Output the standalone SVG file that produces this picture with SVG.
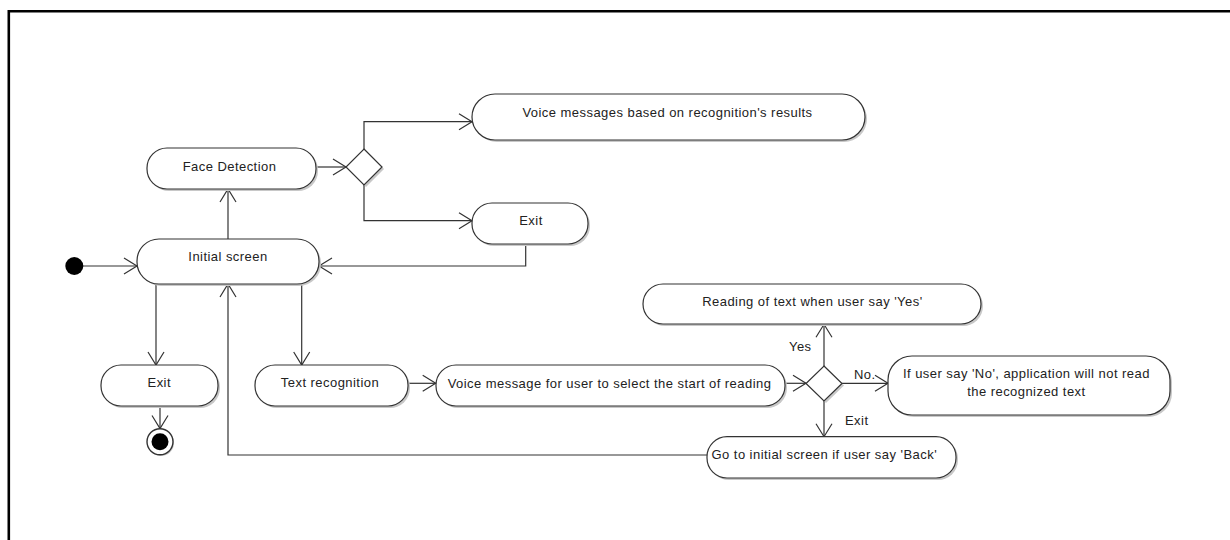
<svg xmlns="http://www.w3.org/2000/svg" width="1230" height="540" viewBox="0 0 1230 540">
<style>
.n{fill:#fff;stroke:#333;stroke-width:1.2}
.sh{fill:#c8c8c8;stroke:none}
.t{font-family:"Liberation Sans",Arial,sans-serif;font-size:13px;letter-spacing:0.45px;fill:#222;text-anchor:middle}
.l{font-family:"Liberation Sans",Arial,sans-serif;font-size:13px;letter-spacing:0.45px;fill:#222}
.c{fill:none;stroke:#333;stroke-width:1.2}
</style>
<defs>
<marker id="a" markerUnits="userSpaceOnUse" markerWidth="30" markerHeight="30" viewBox="-15 -15 30 30" refX="0" refY="0" orient="auto">
<path d="M-13,-8 L0,0 L-13,8" fill="none" stroke="#333" stroke-width="1.2"/>
</marker>
</defs>
<rect width="1230" height="540" fill="#fff"/>
<path d="M8.8,540 V11.2 H1230" fill="none" stroke="#000" stroke-width="2.6"/>

<g id="connectors">
<path class="c" d="M83,266 H137" marker-end="url(#a)"/>
<path class="c" d="M228,239 V189" marker-end="url(#a)"/>
<path class="c" d="M316,167 H346" marker-end="url(#a)"/>
<path class="c" d="M364,149 V121.7 H472" marker-end="url(#a)"/>
<path class="c" d="M364,185 V220.7 H472" marker-end="url(#a)"/>
<path class="c" d="M525.7,244 V266 H319" marker-end="url(#a)"/>
<path class="c" d="M156,284 V365" marker-end="url(#a)"/>
<path class="c" d="M301.7,284 V365" marker-end="url(#a)"/>
<path class="c" d="M160,406 V428.5" marker-end="url(#a)"/>
<path class="c" d="M407.7,383.3 H435.7" marker-end="url(#a)"/>
<path class="c" d="M784.3,383.3 H806" marker-end="url(#a)"/>
<path class="c" d="M824,366 V324.3" marker-end="url(#a)"/>
<path class="c" d="M842,383.3 H888" marker-end="url(#a)"/>
<path class="c" d="M824,401 V436.7" marker-end="url(#a)"/>
<path class="c" d="M707,455 H228 V284" marker-end="url(#a)"/>
<text class="l" x="789" y="350.5">Yes</text>
<text class="l" x="854" y="378.5">No.</text>
<text class="l" x="845" y="424.5">Exit</text>
</g>

<g id="start"><circle cx="74.3" cy="266" r="9" fill="#000"/></g>

<g id="face_detection">
<rect class="sh" x="149" y="150" width="169" height="41" rx="20"/>
<rect class="n" x="147" y="148" width="169" height="41" rx="20"/>
<text class="t" x="229.5" y="170.5">Face Detection</text>
</g>

<g id="initial_screen">
<rect class="sh" x="139" y="241" width="182" height="45" rx="22"/>
<rect class="n" x="137" y="239" width="182" height="45" rx="22"/>
<text class="t" x="228" y="260.5">Initial screen</text>
</g>

<g id="decision1">
<polygon class="sh" points="366,151 384,169 366,187 348,169"/>
<polygon class="n" points="364,149 382,167 364,185 346,167"/>
</g>

<g id="voice_results">
<rect class="sh" x="474" y="96" width="393" height="46" rx="23"/>
<rect class="n" x="472" y="94" width="393" height="46" rx="23"/>
<text class="t" x="667.5" y="116.5">Voice messages based on recognition's results</text>
</g>

<g id="exit_top">
<rect class="sh" x="474" y="205" width="116" height="41" rx="20"/>
<rect class="n" x="472" y="203" width="116" height="41" rx="20"/>
<text class="t" x="531" y="224.5">Exit</text>
</g>

<g id="exit_left">
<rect class="sh" x="103" y="367" width="117" height="41" rx="20"/>
<rect class="n" x="101" y="365" width="117" height="41" rx="20"/>
<text class="t" x="159.3" y="387.2">Exit</text>
</g>

<g id="end">
<circle cx="161" cy="443" r="13" fill="#c8c8c8"/>
<circle cx="160" cy="441.7" r="13" fill="#fff" stroke="#333" stroke-width="1.4"/>
<circle cx="160" cy="441.7" r="8.5" fill="#000"/>
</g>

<g id="text_recognition">
<rect class="sh" x="257" y="367" width="153" height="41" rx="20"/>
<rect class="n" x="255" y="365" width="153" height="41" rx="20"/>
<text class="t" x="330" y="387.2">Text recognition</text>
</g>

<g id="voice_select">
<rect class="sh" x="438" y="367" width="349" height="41" rx="20"/>
<rect class="n" x="436" y="365" width="349" height="41" rx="20"/>
<text class="t" x="609.5" y="387.8">Voice message for user to select the start of reading</text>
</g>

<g id="decision2">
<polygon class="sh" points="826,368 844,385.5 826,403 808,385.5"/>
<polygon class="n" points="824,366 842,383.5 824,401 806,383.5"/>
</g>

<g id="reading_yes">
<rect class="sh" x="645" y="286" width="338" height="40" rx="20"/>
<rect class="n" x="643" y="284" width="338" height="40" rx="20"/>
<text class="t" x="812.4" y="306.2">Reading of text when user say 'Yes'</text>
</g>

<g id="if_no">
<rect class="sh" x="890" y="358" width="282" height="59" rx="24"/>
<rect class="n" x="888" y="356" width="282" height="59" rx="24"/>
<text class="t" x="1026.4" y="377.5">If user say 'No', application will not read</text>
<text class="t" x="1026.4" y="396.2">the recognized text</text>
</g>

<g id="go_back">
<rect class="sh" x="709" y="438.7" width="249" height="41.3" rx="20"/>
<rect class="n" x="707" y="436.7" width="249" height="41.3" rx="20"/>
<text class="t" x="824.3" y="458.8">Go to initial screen if user say 'Back'</text>
</g>
</svg>
